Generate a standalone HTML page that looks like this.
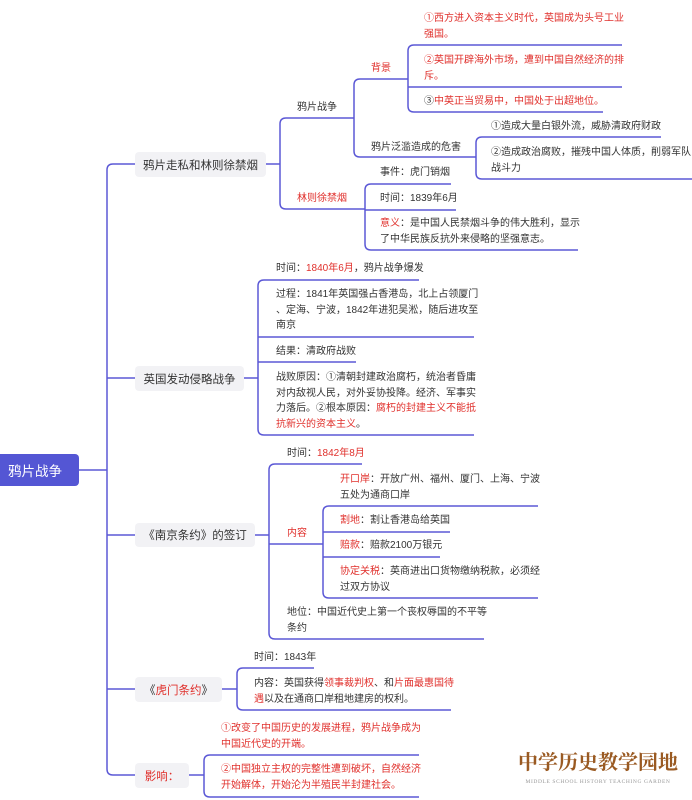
<!DOCTYPE html>
<html><head><meta charset="utf-8"><style>
*{margin:0;padding:0;box-sizing:border-box}
body{width:692px;height:800px;background:#fff;position:relative;overflow:hidden;font-family:"Liberation Sans","Noto Sans CJK SC",sans-serif;color:#333}
.t{position:absolute;font-size:10px;line-height:15.5px;white-space:nowrap}
.r{color:#e0302c}
.box{position:absolute;background:#f2f2f5;border-radius:4px;font-size:11.5px;color:#333;display:flex;align-items:center;justify-content:center;white-space:nowrap}
svg{position:absolute;left:0;top:0}
</style></head><body>
<svg width="692" height="800" fill="none" stroke="#5b58d6" stroke-width="1.5">
<path d="M79,470 H107"/>
<path d="M135,164 H113 Q107,164 107,170 V769 Q107,775 113,775 H135"/>
<path d="M107,378 H135 M107,535 H135 M107,689 H135"/>
<!-- node1 -->
<path d="M266,164 H280 M354,118 H286 Q280,118 280,124 V203 Q280,209 286,209 H365"/>
<path d="M408,79 H360 Q354,79 354,85 V151 Q354,157 360,157 H476"/>
<path d="M622,45 H414 Q408,45 408,51 V106 Q408,112 414,112 H603 M408,87 H622"/>
<path d="M661,137 H482 Q476,137 476,143 V173 Q476,179 482,179 H692"/>
<path d="M451,184 H371 Q365,184 365,190 V244 Q365,250 371,250 H578 M365,210 H456"/>
<!-- node2 -->
<path d="M244,378 H258 M419,280 H264 Q258,280 258,286 V429 Q258,435 264,435 H474 M258,337 H474 M258,362 H356"/>
<!-- node3 -->
<path d="M255,535 H269 M362,464 H275 Q269,464 269,470 V633 Q269,639 275,639 H484 M269,544 H323"/>
<path d="M538,506 H329 Q323,506 323,512 V592 Q323,598 329,598 H538 M323,532 H450 M323,557 H440"/>
<!-- node4 -->
<path d="M222,689 H237 M314,668 H243 Q237,668 237,674 V704 Q237,710 243,710 H451"/>
<!-- node5 -->
<path d="M189,775 H204 M419,755 H210 Q204,755 204,761 V791 Q204,797 210,797 H419"/>
</svg>

<div class="box" style="left:0;top:454;left:0;top:454px;width:79px;height:32px;background:#5456d4;color:#fff;font-size:13.5px;justify-content:flex-start;padding-left:8px;border-radius:0 4px 4px 0">鸦片战争</div>
<div class="box" style="left:135px;top:152px;width:131px;height:25px">鸦片走私和林则徐禁烟</div>
<div class="box" style="left:135px;top:366px;width:109px;height:25px">英国发动侵略战争</div>
<div class="box" style="left:135px;top:523px;width:120px;height:24px">《南京条约》的签订</div>
<div class="box" style="left:135px;top:677px;width:87px;height:25px">《<span class="r">虎门条约</span>》</div>
<div class="box r" style="left:135px;top:763px;width:54px;height:25px;color:#e0302c">影响：</div>

<div class="t" style="left:297px;top:100px">鸦片战争</div>
<div class="t r" style="left:297px;top:191px">林则徐禁烟</div>
<div class="t r" style="left:371px;top:61px">背景</div>
<div class="t" style="left:371px;top:140px">鸦片泛滥造成的危害</div>
<div class="t r" style="left:424px;top:11px">①西方进入资本主义时代，英国成为头号工业<br>强国。</div>
<div class="t r" style="left:424px;top:53px">②英国开辟海外市场，遭到中国自然经济的排<br>斥。</div>
<div class="t" style="left:424px;top:94px">③<span class="r">中英正当贸易中，中国处于出超地位。</span></div>
<div class="t" style="left:491px;top:119px">①造成大量白银外流，威胁清政府财政</div>
<div class="t" style="left:491px;top:145px">②造成政治腐败，摧残中国人体质，削弱军队<br>战斗力</div>
<div class="t" style="left:380px;top:165px">事件：虎门销烟</div>
<div class="t" style="left:380px;top:191px">时间：1839年6月</div>
<div class="t" style="left:380px;top:216px"><span class="r">意义</span>：是中国人民禁烟斗争的伟大胜利，显示<br>了中华民族反抗外来侵略的坚强意志。</div>

<div class="t" style="left:276px;top:261px">时间：<span class="r">1840年6月</span>，鸦片战争爆发</div>
<div class="t" style="left:276px;top:287px">过程：1841年英国强占香港岛，北上占领厦门<br>、定海、宁波，1842年进犯吴淞，随后进攻至<br>南京</div>
<div class="t" style="left:276px;top:344px">结果：清政府战败</div>
<div class="t" style="left:276px;top:370px">战败原因：①清朝封建政治腐朽，统治者昏庸<br>对内敌视人民，对外妥协投降。经济、军事实<br>力落后。②根本原因：<span class="r">腐朽的封建主义不能抵</span><br><span class="r">抗新兴的资本主义</span>。</div>

<div class="t" style="left:287px;top:446px">时间：<span class="r">1842年8月</span></div>
<div class="t r" style="left:287px;top:526px">内容</div>
<div class="t" style="left:287px;top:605px">地位：中国近代史上第一个丧权辱国的不平等<br>条约</div>
<div class="t" style="left:340px;top:472px"><span class="r">开口岸</span>：开放广州、福州、厦门、上海、宁波<br>五处为通商口岸</div>
<div class="t" style="left:340px;top:513px"><span class="r">割地</span>：割让香港岛给英国</div>
<div class="t" style="left:340px;top:538px"><span class="r">赔款</span>：赔款2100万银元</div>
<div class="t" style="left:340px;top:564px"><span class="r">协定关税</span>：英商进出口货物缴纳税款，必须经<br>过双方协议</div>

<div class="t" style="left:254px;top:650px">时间：1843年</div>
<div class="t" style="left:254px;top:676px">内容：英国获得<span class="r">领事裁判权</span>、和<span class="r">片面最惠国待</span><br><span class="r">遇</span>以及在通商口岸租地建房的权利。</div>

<div class="t r" style="left:221px;top:721px">①改变了中国历史的发展进程，鸦片战争成为<br>中国近代史的开端。</div>
<div class="t r" style="left:221px;top:762px">②中国独立主权的完整性遭到破坏，自然经济<br>开始解体，开始沦为半殖民半封建社会。</div>

<div style="position:absolute;left:513px;top:750px;width:170px;text-align:center;font-family:'Liberation Serif','Noto Serif CJK SC',serif;font-weight:bold;font-size:20px;line-height:26px;color:#9a5a22;letter-spacing:0px;white-space:nowrap">中学历史教学园地</div>
<div style="position:absolute;left:513px;top:779px;width:170px;text-align:center;font-family:'Liberation Serif',serif;font-size:5.5px;color:#999;letter-spacing:0.6px;white-space:nowrap">MIDDLE SCHOOL HISTORY TEACHING GARDEN</div>
</body></html>
